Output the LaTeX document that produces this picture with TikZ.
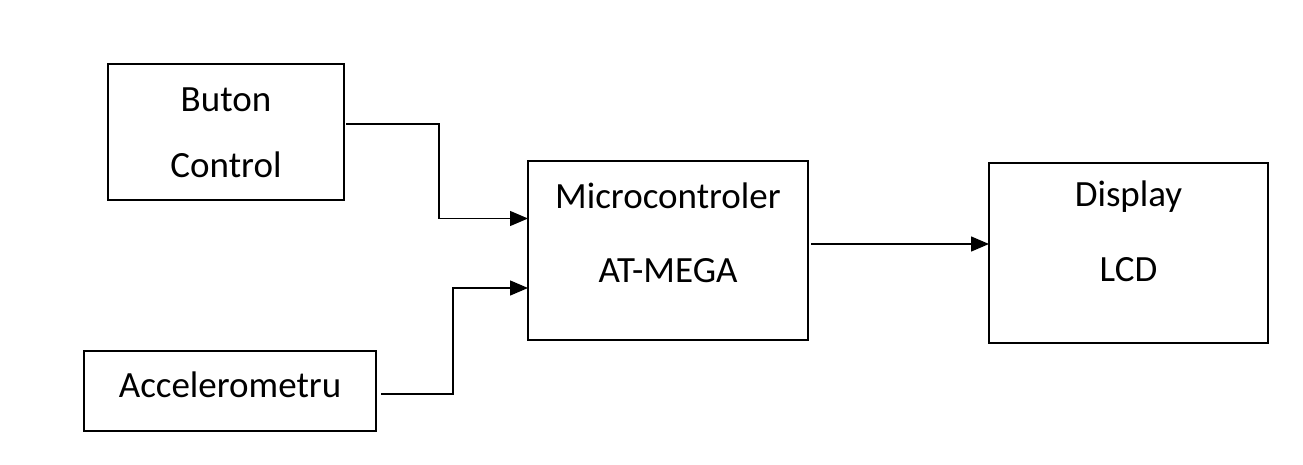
\documentclass[tikz,border=0pt]{standalone}
\usepackage{fontspec}
\setmainfont{Carlito}
\usetikzlibrary{arrows.meta}
\begin{document}
\begin{tikzpicture}[x=1pt,y=-1pt,
  box/.style={draw,line width=1.3pt,outer sep=0pt,inner sep=0pt},
  lbl/.style={font=\fontsize{37}{44}\selectfont,inner sep=0pt,anchor=center},
  arr/.style={line width=1.3pt,-{Triangle[length=18pt,width=15pt]}},
  conn/.style={line width=1.3pt}]
\useasboundingbox (0,0) rectangle (1303,465);
\node[box,minimum width=236pt,minimum height=136pt] (btn) at (226,132) {};
\node[box,minimum width=280pt,minimum height=179pt] (mcu) at (668,250.5) {};
\node[box,minimum width=292pt,minimum height=80pt] (acc) at (230,391) {};
\node[box,minimum width=279pt,minimum height=180pt] (lcd) at (1128.5,253) {};
\node[lbl] (t1) at (btn.center) [yshift=32pt] {Buton};
\node[lbl] (t2) at (btn.center) [yshift=-33pt] {Control};
\node[lbl] (t3) at (mcu.center) [yshift=55pt] {Microcontroler};
\node[lbl] (t4) at (mcu.center) [yshift=-20pt] {AT-MEGA};
\node[lbl] (t5) at (lcd.center) [yshift=56pt] {Display};
\node[lbl] (t6) at (lcd.center) [yshift=-17pt] {LCD};
\node[lbl] (t7) at (acc.center) [yshift=6pt] {Accelerometru};
\draw[arr] ([xshift=2pt,yshift=8pt]btn.east) -- ++(93,0) |- ([yshift=32pt]mcu.west);
\draw[arr] ([xshift=5pt,yshift=-3pt]acc.east) -- ++(72,0) |- ([yshift=-37.5pt]mcu.west);
\coordinate (s3) at ([xshift=3pt,yshift=6.5pt]mcu.east);
\draw[arr] (s3) -- (s3 -| lcd.west);
\end{tikzpicture}
\end{document}
